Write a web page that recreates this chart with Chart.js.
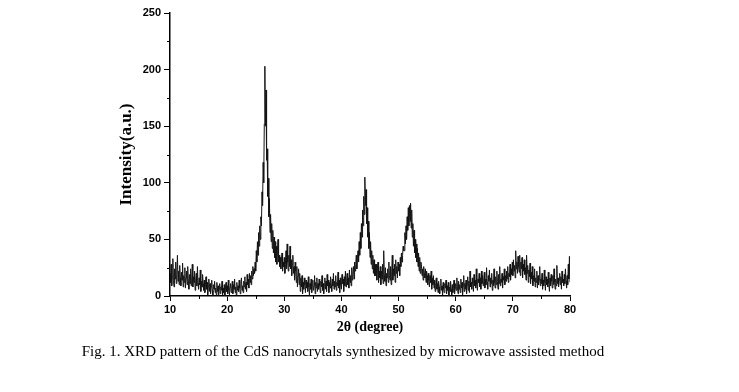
<!DOCTYPE html>
<html>
<head>
<meta charset="utf-8">
<script src="https://cdn.jsdelivr.net/npm/chart.js@4"></script>
<style>
  body { margin:0; background:#fff; }
  #wrap { position:relative; width:739px; height:392px; }
  #caption { position:absolute; left:0; width:686px; top:343px; text-align:center;
    font-family:"Liberation Serif","Times New Roman",serif; font-size:15px; color:#000; }
</style>
</head>
<body>
<div id="wrap">
  <canvas id="grafica" width="739" height="392"></canvas>
  <div id="caption">Fig. 1. XRD pattern of the CdS nanocrytals synthesized by microwave assisted method</div>
</div>
<script>
// 2theta start / step (degree)
const startAngle = 10;
const stepAngle = 0.1;

// intensity, one row = 1 degree
const intensity = [
  20, 12, 28, 9, 17, 33, 14, 8, 24, 15,
  30, 11, 19, 36, 13, 22, 10, 27, 16, 9,
  21, 14, 29, 8, 18, 12, 25, 7, 16, 22,
  10, 26, 13, 6, 19, 11, 24, 9, 15, 28,
  8, 17, 12, 22, 5, 14, 20, 9, 26, 11,
  6, 16, 10, 23, 4, 13, 8, 19, 11, 5,
  14, 3, 10, 17, 6, 12, 1, 9, 15, 4,
  11, 2, 8, 14, 5, 0, 10, 6, 13, 3,
  7, 1, 12, 4, 9, 0, 6, 11, 2, 8,
  5, 13, 1, 7, 3, 10, 0, 6, 12, 4,
  9, 2, 14, 5, 1, 8, 11, 3, 7, 13,
  2, 10, 6, 15, 3, 8, 1, 12, 5, 9,
  4, 14, 7, 2, 11, 16, 5, 9, 3, 13,
  8, 17, 6, 12, 4, 19, 10, 15, 7, 20,
  12, 18, 10, 22, 15, 26, 18, 24, 20, 30,
  22, 40, 30, 48, 36, 56, 44, 62, 50, 70,
  62, 92, 80, 118, 100, 152, 203, 150, 182, 120,
  130, 88, 104, 70, 86, 56, 72, 48, 64, 42,
  58, 38, 52, 34, 48, 30, 44, 28, 40, 50,
  30, 36, 26, 34, 24, 32, 38, 22, 30, 26,
  34, 20, 28, 40, 24, 46, 30, 22, 36, 26,
  44, 24, 32, 18, 28, 36, 20, 26, 14, 30,
  22, 12, 26, 8, 18, 24, 10, 20, 4, 16,
  8, 18, 2, 12, 6, 16, 10, 3, 14, 7,
  12, 4, 17, 8, 1, 11, 6, 15, 3, 10,
  14, 5, 9, 18, 2, 12, 7, 16, 4, 11,
  6, 15, 9, 3, 13, 8, 18, 5, 11, 2,
  10, 16, 6, 13, 4, 19, 9, 14, 3, 12,
  7, 17, 10, 4, 15, 9, 20, 6, 13, 8,
  18, 5, 12, 9, 21, 7, 14, 3, 16, 10,
  6, 19, 11, 15, 4, 17, 9, 22, 8, 13,
  20, 10, 16, 7, 23, 12, 18, 9, 25, 14,
  19, 26, 15, 30, 22, 28, 36, 24, 34, 40,
  30, 48, 36, 56, 42, 64, 52, 76, 62, 88,
  72, 105, 80, 94, 64, 78, 52, 66, 42, 56,
  34, 48, 28, 40, 24, 36, 20, 32, 18, 28,
  18, 28, 14, 24, 30, 12, 22, 16, 26, 10,
  22, 15, 28, 11, 40, 18, 13, 25, 9, 20,
  16, 24, 12, 30, 18, 14, 26, 10, 22, 36,
  14, 24, 18, 28, 12, 32, 20, 26, 16, 30,
  22, 28, 18, 34, 26, 38, 30, 36, 44, 40,
  40, 56, 46, 62, 50, 70, 58, 78, 62, 80,
  66, 82, 60, 76, 52, 64, 44, 58, 38, 50,
  34, 46, 30, 42, 26, 38, 22, 34, 20, 30,
  28, 18, 24, 14, 26, 20, 16, 24, 12, 22,
  18, 10, 20, 14, 8, 18, 12, 22, 6, 16,
  10, 18, 7, 14, 4, 12, 16, 6, 11, 3,
  13, 8, 2, 10, 15, 5, 9, 1, 12, 6,
  3, 11, 7, 14, 2, 9, 5, 12, 0, 8,
  4, 13, 6, 1, 10, 3, 9, 14, 2, 7,
  11, 5, 16, 8, 2, 13, 6, 10, 3, 15,
  7, 12, 1, 9, 18, 4, 11, 6, 14, 2,
  10, 17, 5, 13, 3, 22, 8, 12, 6, 16,
  11, 4, 19, 9, 14, 7, 24, 10, 5, 15,
  12, 20, 8, 16, 6, 22, 11, 18, 9, 14,
  21, 7, 15, 10, 25, 12, 6, 18, 13, 23,
  8, 16, 11, 20, 5, 14, 9, 24, 12, 7,
  17, 10, 22, 13, 6, 19, 11, 26, 9, 15,
  12, 20, 7, 17, 14, 24, 10, 18, 13, 22,
  15, 26, 12, 20, 17, 28, 14, 24, 19, 30,
  18, 32, 22, 27, 16, 40, 24, 30, 20, 35,
  26, 21, 36, 18, 30, 24, 34, 16, 28, 22,
  32, 19, 25, 14, 36, 20, 27, 12, 23, 17,
  29, 11, 21, 15, 26, 9, 18, 13, 24, 8,
  16, 12, 22, 7, 18, 10, 14, 26, 9, 15,
  11, 20, 6, 14, 9, 23, 12, 5, 17, 10,
  15, 8, 21, 11, 4, 16, 9, 19, 13, 7,
  18, 10, 24, 12, 6, 15, 9, 27, 11, 16,
  8, 14, 20, 10, 17, 6, 22, 12, 15, 9,
  19, 11, 24, 13, 7, 18, 10, 28, 15, 35,
  12
];

const xTicks = [10, 20, 30, 40, 50, 60, 70, 80];
const yTicks = [0, 50, 100, 150, 200, 250];
const xMinor = [15, 25, 35, 45, 55, 65, 75];
const yMinor = [25, 75, 125, 175, 225];

const points = intensity.map((v, i) => ({ x: +(startAngle + i * stepAngle).toFixed(1), y: v }));

// short minor ticks, like the original plot
const minorTicks = {
  id: 'minorTicks',
  afterDraw(chart) {
    const ctx = chart.ctx;
    const xs = chart.scales.x, ys = chart.scales.y;
    ctx.save();
    ctx.strokeStyle = '#000';
    ctx.lineWidth = 1;
    ctx.beginPath();
    xMinor.forEach(v => {
      const px = Math.round(xs.getPixelForValue(v)) + 0.5;
      ctx.moveTo(px, xs.top);
      ctx.lineTo(px, xs.top + 3);
    });
    yMinor.forEach(v => {
      const py = Math.round(ys.getPixelForValue(v)) + 0.5;
      ctx.moveTo(ys.right, py);
      ctx.lineTo(ys.right - 3, py);
    });
    ctx.stroke();
    ctx.restore();
  }
};

const tickFont = { family: 'Liberation Sans, Arial, sans-serif', size: 11, weight: 'bold' };
const xTitleFont = { family: 'Liberation Serif, Times New Roman, serif', size: 14, weight: 'bold' };
const yTitleFont = { family: 'Liberation Serif, Times New Roman, serif', size: 17, weight: 'bold' };

const graph = document.querySelector('#grafica');
new Chart(graph, {
  type: 'line',
  data: {
    datasets: [{
      data: points,
      borderColor: '#141414',
      borderWidth: 1,
      pointRadius: 0,
      tension: 0
    }]
  },
  options: {
    responsive: false,
    animation: false,
    layout: { padding: { left: 0, right: 169, top: 13, bottom: 0 } },
    plugins: { legend: { display: false }, tooltip: { enabled: false } },
    scales: {
      x: {
        type: 'linear',
        min: 10, max: 80,
        afterFit: s => { s.height = 96; },
        afterBuildTicks: s => { s.ticks = xTicks.map(v => ({ value: v })); },
        border: { display: true, color: '#000', width: 1.5 },
        grid: { drawOnChartArea: false, tickLength: 5, color: '#000' },
        ticks: { color: '#000', font: tickFont, padding: 2, maxRotation: 0 },
        title: { display: true, text: '2θ (degree)', color: '#000', font: xTitleFont, padding: { top: 0, bottom: 56 } }
      },
      y: {
        min: 0, max: 250,
        afterFit: s => { s.width = 170; },
        afterBuildTicks: s => { s.ticks = yTicks.map(v => ({ value: v })); },
        border: { display: true, color: '#000', width: 1.5 },
        grid: { drawOnChartArea: false, tickLength: 6, color: '#000' },
        ticks: { color: '#000', font: tickFont, padding: 3 },
        title: { display: true, text: 'Intensity(a.u.)', color: '#000', font: yTitleFont, padding: { top: 116, bottom: 0 } }
      }
    }
  },
  plugins: [minorTicks]
});
</script>
</body>
</html>
